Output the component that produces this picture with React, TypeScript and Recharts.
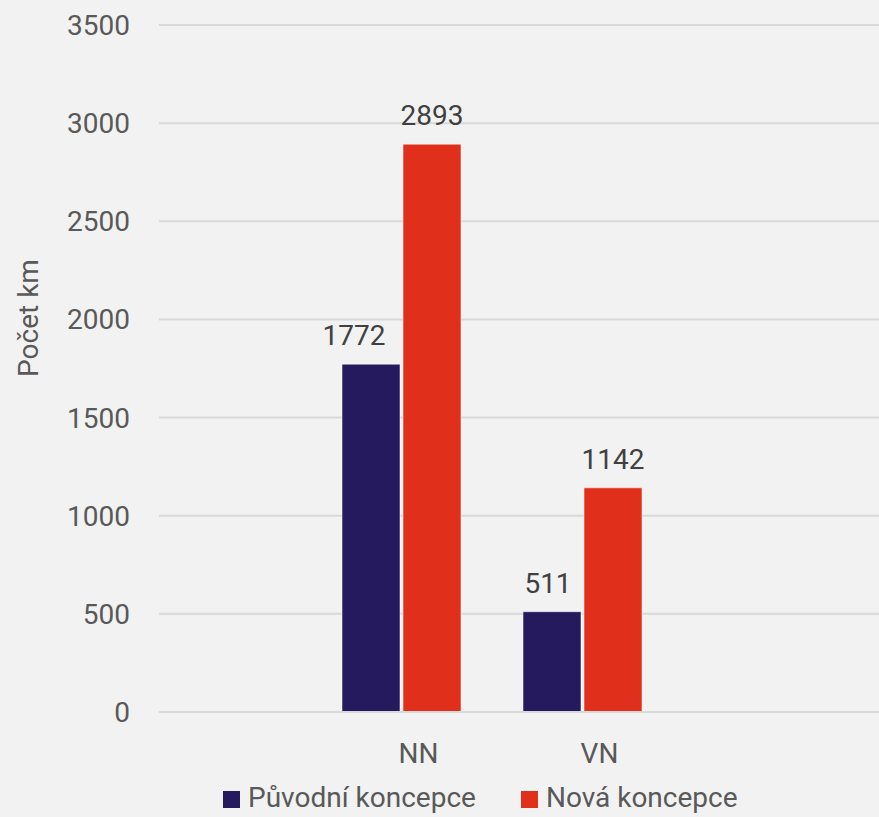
import { BarChart, Bar, XAxis, YAxis, CartesianGrid, LabelList } from 'recharts'

// Délka vedení (km) podle úrovně napětí
const categories = ['NN', 'VN']
const puvodni = [1772, 511]
const nova = [2893, 1142]
const yTicks = [0, 500, 1000, 1500, 2000, 2500, 3000, 3500]

const NAVY = '#261a5e'
const RED = '#e0301c'
const TEXT = '#595959'
const FONT = 'Roboto, "Noto Sans", sans-serif'

const data = categories.map((name, i) => ({
  name,
  puvodni: puvodni[i],
  nova: nova[i],
}))

const legendItems = [
  { label: 'Původní koncepce', color: NAVY },
  { label: 'Nová koncepce', color: RED },
]

// popisky první řady jsou posunuté doleva, aby nekolidovaly se sousedním sloupcem
const leftShift = [-17, -4]

function ShiftedLabel(props: any) {
  const { x, y, width, value, index } = props
  return (
    <text
      x={x + width / 2 + (leftShift[index] ?? 0)}
      y={y - 19}
      textAnchor="middle"
      fill="#404040"
      fontSize={28}
      fontFamily={FONT}
    >
      {value}
    </text>
  )
}

function LegendRow() {
  return (
    <div style={{ position: 'absolute', left: 223, top: 781, display: 'flex', alignItems: 'center', fontFamily: FONT, fontSize: 28, color: TEXT, whiteSpace: 'nowrap' }}>
      {legendItems.map((it, i) => (
        <div key={it.label} style={{ display: 'flex', alignItems: 'center', marginRight: i === 0 ? 45 : 0 }}>
          <span style={{ width: 17, height: 17, background: it.color, marginRight: 8, display: 'inline-block', marginTop: 4 }} />
          <span>{it.label}</span>
        </div>
      ))}
    </div>
  )
}

export default function App() {
  return (
    <div style={{ position: 'absolute', left: 0, top: 0, width: 879, height: 817, background: '#f2f2f2', overflow: 'hidden' }}>
      <BarChart
        width={879}
        height={817}
        data={data}
        margin={{ top: 25, right: 0, bottom: 45, left: 0 }}
        barCategoryGap={31}
        barGap={3}
      >
        <CartesianGrid vertical={false} stroke="#d9d9d9" strokeWidth={2} />
        <XAxis
          dataKey="name"
          padding={{ left: 152, right: 206 }}
          axisLine={{ stroke: '#d9d9d9', strokeWidth: 2 }}
          tickLine={false}
          tickSize={0}
          tickMargin={31}
          height={60}
          tick={{ fontSize: 28, fill: TEXT, fontFamily: FONT, dx: 17 }}
        />
        <YAxis
          domain={[0, 3500]}
          ticks={yTicks}
          width={159}
          axisLine={false}
          tickLine={false}
          tickSize={0}
          tickMargin={29}
          tick={{ fontSize: 28, fill: TEXT, fontFamily: FONT }}
          label={({ viewBox }: any) => (
            <text
              x={28}
              y={viewBox.y + 293}
              transform={`rotate(-90, 28, ${viewBox.y + 293})`}
              textAnchor="middle"
              dominantBaseline="central"
              fontSize={28}
              fill={TEXT}
              fontFamily={FONT}
            >
              Počet km
            </text>
          )}
        />
        <Bar dataKey="puvodni" fill={NAVY} stroke="#ffffff" strokeOpacity={0.5} strokeWidth={1} isAnimationActive={false}>
          <LabelList dataKey="puvodni" content={ShiftedLabel} />
        </Bar>
        <Bar dataKey="nova" fill={RED} stroke="#ffffff" strokeOpacity={0.5} strokeWidth={1} isAnimationActive={false}>
          <LabelList dataKey="nova" position="top" offset={19} fill="#404040" fontSize={28} fontFamily={FONT} />
        </Bar>
      </BarChart>
      <LegendRow />
    </div>
  )
}
